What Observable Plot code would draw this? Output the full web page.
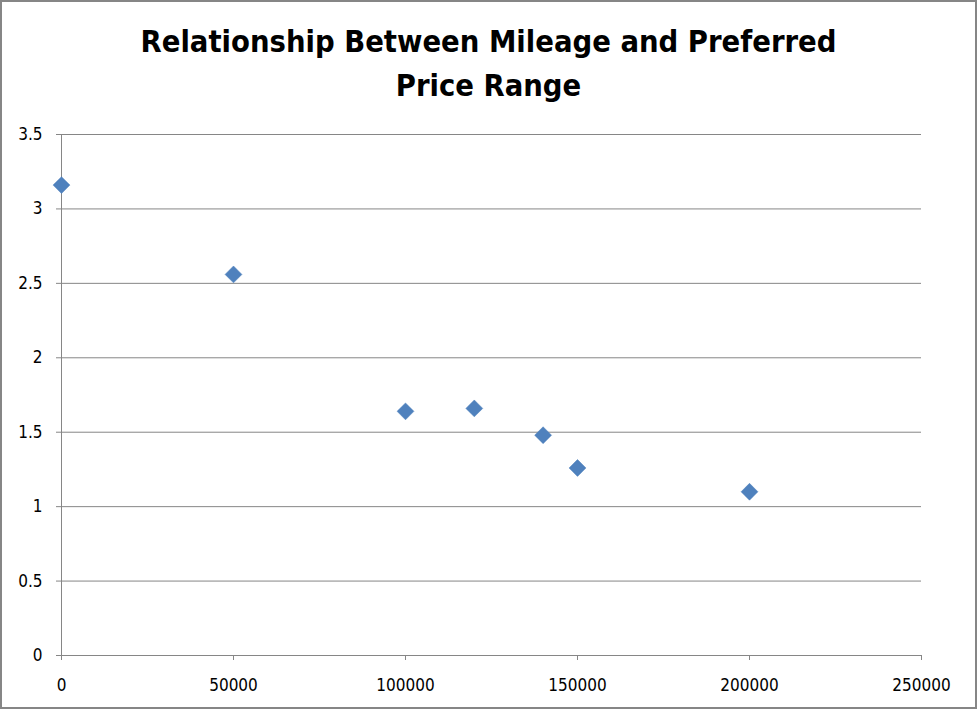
<!DOCTYPE html>
<html>
<head>
<meta charset="utf-8">
<script src="https://cdn.jsdelivr.net/npm/d3@7"></script>
<script src="https://cdn.jsdelivr.net/npm/@observablehq/plot@0.6"></script>
<style>
  html, body { margin: 0; padding: 0; background: #fff; }
  #wrap { position: relative; width: 977px; height: 709px; overflow: hidden; }
  #frame { position: absolute; left: 0; top: 0; width: 977px; height: 709px; box-sizing: border-box; border: 2px solid #868686; pointer-events: none; }
  #title { position: absolute; left: 0; top: 20px; width: 977px; text-align: center; font-family: "DejaVu Sans Condensed", sans-serif; font-weight: bold; font-size: 30.6px; line-height: 44px; color: #000; }
  svg { position: absolute; left: 0; top: 0; }
</style>
</head>
<body>
<div id="wrap">
  <div id="title">Relationship Between Mileage and Preferred<br>Price Range</div>
  <div id="chart"></div>
  <div id="frame"></div>
</div>
<script>
const mileage = [0, 50000, 100000, 120000, 140000, 150000, 200000];
const priceRange = [3.16, 2.56, 1.64, 1.66, 1.48, 1.26, 1.10];
const xTicks = [0, 50000, 100000, 150000, 200000, 250000];
const yTicks = [0, 0.5, 1, 1.5, 2, 2.5, 3, 3.5];

const data = mileage.map((m, i) => ({mileage: m, price: priceRange[i]}));
const grid = "#868686";

const chart = Plot.plot({
  width: 977,
  height: 709,
  marginLeft: 61,
  marginRight: 56,
  marginTop: 134,
  marginBottom: 54,
  style: {fontFamily: "'DejaVu Sans Condensed', sans-serif", fontSize: "17px", color: "#000", background: "transparent"},
  x: {domain: [0, 250000], ticks: xTicks, tickFormat: d => String(d), label: null},
  y: {domain: [0, 3.5], ticks: yTicks, tickFormat: d => String(d), label: null},
  marks: [
    Plot.ruleY(yTicks, {stroke: grid, strokeWidth: 1, strokeOpacity: 1}),
    Plot.ruleX([0], {stroke: grid, strokeWidth: 1}),
    Plot.axisX({ticks: xTicks, tickSize: 5, tickPadding: 18, stroke: grid, strokeOpacity: 1, tickFormat: d => String(d), label: null, fill: "#000"}),
    Plot.axisY({ticks: yTicks, tickSize: 5, tickPadding: 14, stroke: grid, strokeOpacity: 1, tickFormat: d => String(d), label: null, fill: "#000"}),
    Plot.dot(data, {x: "mileage", y: "price", symbol: "diamond2", r: 7.6, fill: "#4F81BD", stroke: "#4A7EBB", strokeWidth: 0.5})
  ]
});
document.getElementById("chart").appendChild(chart);
</script>
</body>
</html>
